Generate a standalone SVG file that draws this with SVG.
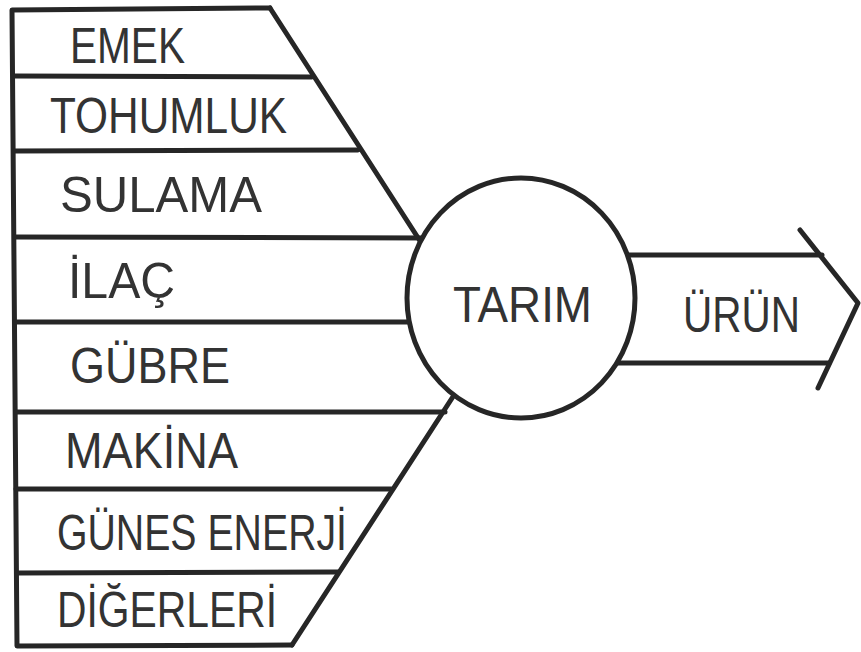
<svg xmlns="http://www.w3.org/2000/svg" width="861" height="652" viewBox="0 0 861 652">
<style>
.ln{fill:none;stroke:#262626;stroke-width:5;stroke-linecap:round;stroke-linejoin:round}
.t{font-family:"Liberation Sans",Arial,sans-serif;font-size:50px;fill:#333}
</style>
<rect width="861" height="652" fill="#fff"/>
<g id="connectors">
<path class="ln" d="M270,8 L12,10 L17,646 L292,645"/>
<path class="ln" d="M270,8 L422,244"/>
<path class="ln" d="M456,392 L292,645"/>
<path class="ln" d="M14,76 L312,77"/>
<path class="ln" d="M14,151 L358,150"/>
<path class="ln" d="M15,237 L430,238"/>
<path class="ln" d="M15,322 L430,322"/>
<path class="ln" d="M16,412 L445,412"/>
<path class="ln" d="M16,489 L391,489"/>
<path class="ln" d="M17,573 L338,572"/>
<path class="ln" d="M600,255 L822,255"/>
<path class="ln" d="M600,363 L829,363"/>
<path class="ln" d="M800,230 L858,303 L818,388"/>
</g>
<g id="emek"><text class="t" x="70" y="63" textLength="115" lengthAdjust="spacingAndGlyphs">EMEK</text></g>
<g id="tohumluk"><text class="t" x="50" y="133" textLength="237" lengthAdjust="spacingAndGlyphs">TOHUMLUK</text></g>
<g id="sulama"><text class="t" x="60" y="212" textLength="202" lengthAdjust="spacingAndGlyphs">SULAMA</text></g>
<g id="ilac"><text class="t" x="68" y="298" textLength="107" lengthAdjust="spacingAndGlyphs">İLAÇ</text></g>
<g id="gubre"><text class="t" x="70" y="383" textLength="160" lengthAdjust="spacingAndGlyphs">GÜBRE</text></g>
<g id="makina"><text class="t" x="65" y="468" textLength="173" lengthAdjust="spacingAndGlyphs">MAKİNA</text></g>
<g id="gunes"><text class="t" x="57" y="550" textLength="290" lengthAdjust="spacingAndGlyphs">GÜNES ENERJİ</text></g>
<g id="digerleri"><text class="t" x="57" y="627" textLength="220" lengthAdjust="spacingAndGlyphs">DİĞERLERİ</text></g>
<g id="tarim">
<ellipse cx="521" cy="298" rx="114" ry="120" fill="#fff" stroke="#262626" stroke-width="5"/>
<text class="t" x="453" y="322" textLength="139" lengthAdjust="spacingAndGlyphs">TARIM</text>
</g>
<g id="urun"><text class="t" x="683" y="332" textLength="117" lengthAdjust="spacingAndGlyphs">ÜRÜN</text></g>
</svg>
